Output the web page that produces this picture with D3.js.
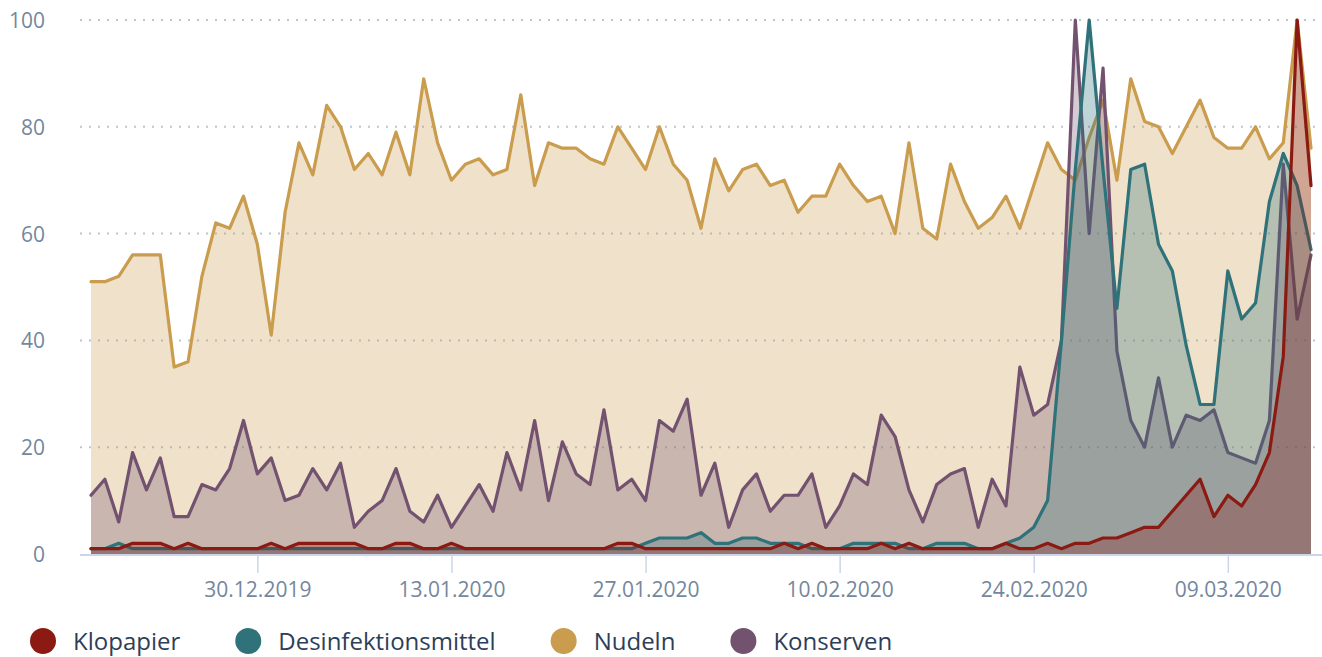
<!DOCTYPE html>
<html>
<head>
<meta charset="utf-8">
<script src="https://cdn.jsdelivr.net/npm/d3@7"></script>
<style>
  html, body { margin: 0; padding: 0; background: #fff; }
  svg { display: block; font-family: "Open Sans", "Noto Sans", sans-serif; }
</style>
</head>
<body>
<div id="chart"></div>
<script>
// daily search interest, 18.12.2019 - 15.03.2020
const startDate = new Date(2019, 11, 18);

const klopapier = [
  1, 1, 1, 2, 2, 2, 1, 2, 1, 1, 1, 1, 1, 2, 1,
  2, 2, 2, 2, 2, 1, 1, 2, 2, 1, 1, 2, 1, 1,
  1, 1, 1, 1, 1, 1, 1, 1, 1, 2, 2, 1, 1, 1, 1,
  1, 1, 1, 1, 1, 1, 2, 1, 2, 1, 1, 1, 1, 2,
  1, 2, 1, 1, 1, 1, 1, 1, 2, 1, 1, 2, 1, 2,
  2, 3, 3, 4, 5, 5, 8, 11, 14, 7, 11, 9, 13, 19, 37, 100, 69
];
const desinfektion = [
  1, 1, 2, 1, 1, 1, 1, 1, 1, 1, 1, 1, 1, 1, 1,
  1, 1, 1, 1, 1, 1, 1, 1, 1, 1, 1, 1, 1, 1,
  1, 1, 1, 1, 1, 1, 1, 1, 1, 1, 1, 2, 3, 3, 3,
  4, 2, 2, 3, 3, 2, 2, 2, 1, 1, 1, 2, 2, 2,
  2, 1, 1, 2, 2, 2, 1, 1, 2, 3, 5, 10, 40, 72,
  100, 72, 46, 72, 73, 58, 53, 39, 28, 28, 53, 44, 47, 66, 75, 69, 57
];
const nudeln = [
  51, 51, 52, 56, 56, 56, 35, 36, 52, 62, 61, 67, 58, 41, 64,
  77, 71, 84, 80, 72, 75, 71, 79, 71, 89, 77, 70, 73, 74,
  71, 72, 86, 69, 77, 76, 76, 74, 73, 80, 76, 72, 80, 73, 70,
  61, 74, 68, 72, 73, 69, 70, 64, 67, 67, 73, 69, 66, 67,
  60, 77, 61, 59, 73, 66, 61, 63, 67, 61, 69, 77, 72, 70,
  78, 85, 70, 89, 81, 80, 75, 80, 85, 78, 76, 76, 80, 74, 77, 100, 76
];
const konserven = [
  11, 14, 6, 19, 12, 18, 7, 7, 13, 12, 16, 25, 15, 18, 10,
  11, 16, 12, 17, 5, 8, 10, 16, 8, 6, 11, 5, 9, 13,
  8, 19, 12, 25, 10, 21, 15, 13, 27, 12, 14, 10, 25, 23, 29,
  11, 17, 5, 12, 15, 8, 11, 11, 15, 5, 9, 15, 13, 26,
  22, 12, 6, 13, 15, 16, 5, 14, 9, 35, 26, 28, 40, 100,
  60, 91, 38, 25, 20, 33, 20, 26, 25, 27, 19, 18, 17, 25, 73, 44, 56
];

const yTicks = [0, 20, 40, 60, 80, 100];
const xTickDates = ["2019-12-30", "2020-01-13", "2020-01-27", "2020-02-10", "2020-02-24", "2020-03-09"];

// legend order
const seriesNames = ["Klopapier", "Desinfektionsmittel", "Nudeln", "Konserven"];
const seriesColors = ["#8b1a13", "#2f727a", "#c99c4e", "#72526f"];
const seriesValues = [klopapier, desinfektion, nudeln, konserven];
// drawing order, bottom to top
const drawOrder = [2, 3, 1, 0];

const width = 1322, height = 657;
const plotLeft = 80, plotRight = 1322;
const labelColor = "#74879c";

const svg = d3.select("#chart").append("svg")
  .attr("width", width)
  .attr("height", height);

const dates = klopapier.map((_, i) => d3.timeDay.offset(startDate, i));

const x = d3.scaleTime()
  .domain([dates[0], dates[dates.length - 1]])
  .range([91, 1311]);

const y = d3.scaleLinear()
  .domain([0, 100])
  .range([554, 20]);

// grid
svg.append("g")
  .selectAll("line")
  .data(yTicks.filter(d => d > 0))
  .join("line")
  .attr("x1", plotLeft)
  .attr("x2", plotRight)
  .attr("y1", d => y(d))
  .attr("y2", d => y(d))
  .attr("stroke", "#b9c6d4")
  .attr("stroke-width", 2)
  .attr("stroke-dasharray", "2,7");

svg.append("g")
  .selectAll("text")
  .data(yTicks)
  .join("text")
  .attr("x", 45)
  .attr("y", d => y(d) + 8)
  .attr("text-anchor", "end")
  .attr("font-size", 21)
  .attr("fill", labelColor)
  .text(d => d);

// series
const area = d3.area()
  .x((d, i) => x(dates[i]))
  .y0(y(0))
  .y1(d => y(d));

const line = d3.line()
  .x((d, i) => x(dates[i]))
  .y(d => y(d));

const g = svg.append("g");
for (const k of drawOrder) {
  g.append("path")
    .datum(seriesValues[k])
    .attr("d", area)
    .attr("fill", seriesColors[k])
    .attr("fill-opacity", 0.3);
  g.append("path")
    .datum(seriesValues[k])
    .attr("d", line)
    .attr("fill", "none")
    .attr("stroke", seriesColors[k])
    .attr("stroke-width", 3.2)
    .attr("stroke-linejoin", "round")
    .attr("stroke-linecap", "round");
}

// x axis
const parse = d3.timeParse("%Y-%m-%d");
const xAxis = d3.axisBottom(x)
  .tickValues(xTickDates.map(parse))
  .tickFormat(d3.timeFormat("%d.%m.%Y"))
  .tickSize(19)
  .tickPadding(4);

const ax = svg.append("g")
  .attr("transform", `translate(0,${y(0)})`)
  .call(xAxis);
ax.select(".domain").remove();
ax.selectAll(".tick line").attr("stroke", "#ccd6eb").attr("stroke-width", 1.5);
ax.selectAll(".tick text")
  .attr("font-size", 21)
  .attr("font-family", "'Open Sans', sans-serif")
  .attr("fill", labelColor)
  .attr("y", 0)
  .attr("dy", 0)
  .attr("transform", "translate(0,43)");

svg.append("line")
  .attr("x1", plotLeft)
  .attr("x2", plotRight)
  .attr("y1", y(0) + 1)
  .attr("y2", y(0) + 1)
  .attr("stroke", "#ccd6eb")
  .attr("stroke-width", 2);

// legend
const legend = svg.append("g").attr("transform", "translate(0,641)");
let lx = 30;
seriesNames.forEach((name, i) => {
  legend.append("circle")
    .attr("cx", lx + 13)
    .attr("cy", 0)
    .attr("r", 13)
    .attr("fill", seriesColors[i]);
  const t = legend.append("text")
    .attr("x", lx + 43)
    .attr("y", 9)
    .attr("font-size", 24)
    .attr("fill", "#2d3e58")
    .text(name);
  lx += 43 + t.node().getComputedTextLength() + 55;
});
</script>
</body>
</html>
